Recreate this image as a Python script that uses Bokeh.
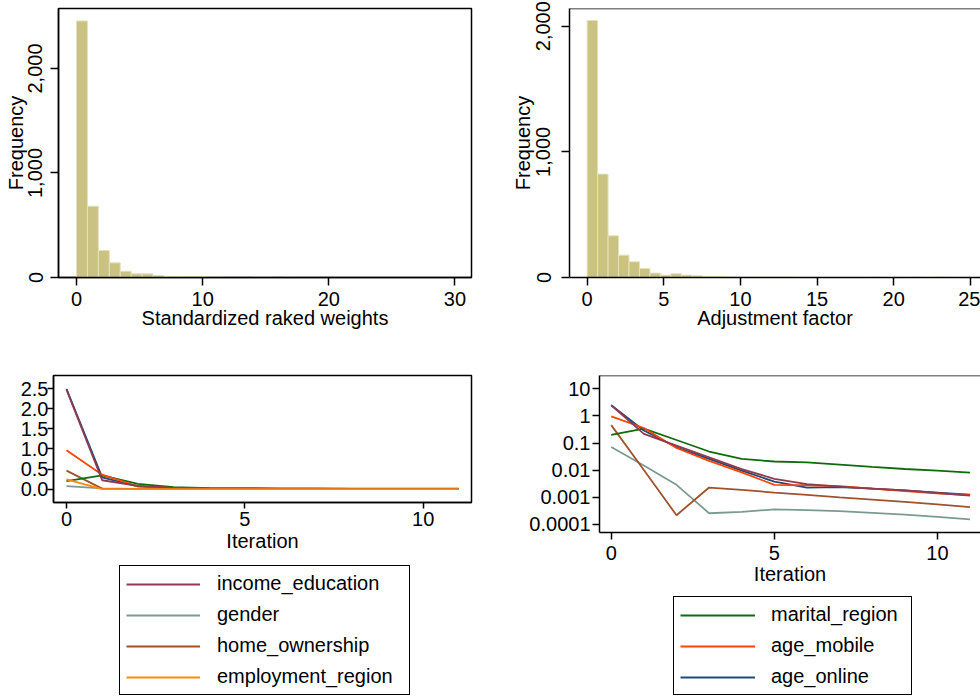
import math
import numpy as np
from bokeh.plotting import figure
from bokeh.layouts import row, column
from bokeh.models import (Range1d, FixedTicker, NumeralTickFormatter, Legend,
                          LegendItem, Span)
from bokeh.embed import file_html
from bokeh.resources import INLINE

FONT = "Liberation Sans"
FS = "20px"

# ---------------- data ----------------
weights_bin_width = 0.866
weights_counts = [2455, 682, 258, 140, 60, 35, 35, 19, 10, 10, 7, 9, 5, 2, 1, 0,
                  3, 3, 0, 3, 0, 0, 0, 0, 0, 0, 0, 0, 0, 0, 0, 0, 0, 2, 2]

adj_bin_width = 0.683
adj_counts = [2045, 823, 332, 178, 125, 72, 35, 19, 30, 19, 13, 8, 5, 4, 3, 3,
              2, 2, 3, 2, 0, 0, 0, 0, 0, 0, 0, 2, 0, 0, 0, 2, 0, 2, 1]

iterations = list(range(12))
income_education = [2.48, 0.22, 0.081, 0.030, 0.011, 0.0048, 0.0031, 0.0025, 0.0021, 0.0018, 0.00145, 0.00115]
gender = [0.072, 0.015, 0.0029, 0.00026, 0.00029, 0.00036, 0.00034, 0.00031, 0.00027, 0.00023, 0.00019, 0.000155]
home_ownership = [0.46, 0.0102, 0.00022, 0.0023, 0.0019, 0.0015, 0.00123, 0.0010, 0.00083, 0.00068, 0.00055, 0.00044]
employment_region = [0.24, 0, 0, 0, 0, 0, 0, 0, 0, 0, 0, 0]
marital_region = [0.20, 0.34, 0.13, 0.049, 0.026, 0.021, 0.0196, 0.0161, 0.0132, 0.0111, 0.0097, 0.0081]
age_mobile = [0.97, 0.36, 0.066, 0.022, 0.0083, 0.0029, 0.0028, 0.0026, 0.0021, 0.0017, 0.0014, 0.0012]
age_online = [2.5, 0.29, 0.070, 0.026, 0.0097, 0.0038, 0.0023, 0.0024, 0.0021, 0.0018, 0.0015, 0.00125]

series = {
    "income_education": income_education,
    "gender": gender,
    "home_ownership": home_ownership,
    "employment_region": employment_region,
    "marital_region": marital_region,
    "age_mobile": age_mobile,
    "age_online": age_online,
}
colors = {
    "income_education": "#8E3A4F",
    "gender": "#7C9A90",
    "home_ownership": "#A0522D",
    "employment_region": "#FF8C00",
    "marital_region": "#0E6B0E",
    "age_mobile": "#FF4500",
    "age_online": "#1F4A7A",
}
draw_order = ["age_online", "gender", "home_ownership", "marital_region",
              "age_mobile", "income_education", "employment_region"]
legend_left = ["income_education", "gender", "home_ownership", "employment_region"]
legend_right = ["marital_region", "age_mobile", "age_online"]

BAR_FILL = "#C9C281"
BAR_LINE = "#E6E2B6"
LW = 1.8
NAN = float("nan")


def style(p, tick_out):
    p.outline_line_color = "black"
    p.outline_line_width = 1.5
    p.grid.visible = False
    p.background_fill_color = "white"
    p.border_fill_color = "white"
    for ax in p.axis:
        ax.axis_line_color = "black"
        ax.axis_line_width = 1.5
        ax.major_tick_line_color = "black"
        ax.major_tick_line_width = 1.5
        ax.major_tick_out = tick_out
        ax.major_tick_in = 0
        ax.minor_tick_line_color = None
        ax.major_label_text_font = FONT
        ax.major_label_text_font_size = FS
        ax.major_label_text_color = "black"
        ax.axis_label_text_font = FONT
        ax.axis_label_text_font_size = FS
        ax.axis_label_text_font_style = "normal"
        ax.axis_label_text_color = "black"


def histogram(counts, width, xr, yr, xticks, yticks, xlabel, mb_left, fw, mb_right,
              y_standoff, y_label_standoff):
    p = figure(frame_width=fw, frame_height=269, min_border_left=mb_left,
               min_border_right=mb_right, min_border_top=8, min_border_bottom=60,
               x_range=Range1d(*xr), y_range=Range1d(*yr),
               output_backend="svg", toolbar_location=None)
    left = np.arange(len(counts)) * width
    p.quad(left=left, right=left + width, bottom=0, top=np.array(counts),
           fill_color=BAR_FILL, line_color=BAR_LINE, line_width=1)
    style(p, 8)
    p.xaxis.ticker = FixedTicker(ticks=xticks)
    p.yaxis.ticker = FixedTicker(ticks=yticks)
    p.yaxis.formatter = NumeralTickFormatter(format="0,0")
    p.yaxis.major_label_orientation = "parallel"
    p.xaxis.axis_label = xlabel
    p.yaxis.axis_label = "Frequency"
    p.xaxis.major_label_standoff = 6
    p.xaxis.axis_label_standoff = -2
    p.yaxis.major_label_standoff = y_standoff
    p.yaxis.axis_label_standoff = y_label_standoff
    return p


p1 = histogram(weights_counts, weights_bin_width, (-1.43, 31.31), (0, 2574),
               [0, 10, 20, 30], [0, 1000, 2000], "Standardized raked weights",
               58, 413, 10, 8, -1)

p2 = histogram(adj_counts, adj_bin_width, (-1.15, 25.66), (0, 2141),
               [0, 5, 10, 15, 20, 25], [0, 1000, 2000], "Adjustment factor",
               88, 411, 0, 11, 0)
p2.outline_line_color = None
p2.add_layout(Span(location=2141, dimension="width", line_color="black", line_width=1.5))


def legend_figure(names, width, height, loc, glyph_w, standoff, label_w):
    p = figure(width=width, height=height, min_border=0,
               x_range=Range1d(0, 1), y_range=Range1d(0, 1),
               x_axis_location=None, y_axis_location=None,
               output_backend="svg", toolbar_location=None)
    p.outline_line_color = None
    p.grid.visible = False
    items = []
    for n in names:
        r = p.line(x=[NAN, NAN], y=[NAN, NAN], line_color=colors[n], line_width=LW)
        items.append(LegendItem(label=n, renderers=[r]))
    leg = Legend(items=items, location=loc, orientation="vertical",
                 label_text_font=FONT, label_text_font_size=FS,
                 label_text_color="black",
                 glyph_width=glyph_w, glyph_height=20, label_height=20,
                 label_standoff=standoff, label_width=label_w, spacing=8,
                 padding=6, margin=0, border_line_color="black",
                 border_line_alpha=1.0, border_line_width=1,
                 background_fill_color="white", background_fill_alpha=1.0)
    p.add_layout(leg, "center")
    return p


# bottom-left: linear
p3 = figure(frame_width=418, frame_height=127, min_border_left=53, min_border_right=10,
            min_border_top=38, min_border_bottom=58,
            x_range=Range1d(-0.364, 11.354), y_range=Range1d(-0.335, 2.833),
            output_backend="svg", toolbar_location=None)
for n in draw_order:
    p3.line(iterations, series[n], line_color=colors[n], line_width=LW)
style(p3, 6)
p3.xaxis.ticker = FixedTicker(ticks=[0, 5, 10])
p3.yaxis.ticker = FixedTicker(ticks=[0, 0.5, 1.0, 1.5, 2.0, 2.5])
p3.yaxis.formatter = NumeralTickFormatter(format="0.0")
p3.xaxis.axis_label = "Iteration"
p3.xaxis.major_label_standoff = 3
p3.xaxis.axis_label_standoff = 1
p3.yaxis.major_label_standoff = -1

leg3 = legend_figure(legend_left, 481, 137, (66, 2), 74, 17, 186)

# bottom-right: log
p4 = figure(frame_width=381, frame_height=157, min_border_left=118, min_border_right=0,
            min_border_top=38, min_border_bottom=58, y_axis_type="log",
            x_range=Range1d(-0.36, 11.32), y_range=Range1d(5.07e-5, 31.0),
            output_backend="svg", toolbar_location=None)
for n in draw_order:
    vals = [v if v > 0 else NAN for v in series[n]]
    p4.line(iterations, vals, line_color=colors[n], line_width=LW)
style(p4, 7)
p4.outline_line_color = None
p4.add_layout(Span(location=31.0, dimension="width", line_color="black", line_width=1.5))
log_ticks = [0.0001, 0.001, 0.01, 0.1, 1, 10]
log_labels = ["0.0001", "0.001", "0.01", "0.1", "1", "10"]
p4.xaxis.ticker = FixedTicker(ticks=[0, 5, 10])
p4.yaxis.ticker = FixedTicker(ticks=log_ticks)
p4.yaxis.major_label_overrides = {t: l for t, l in zip(log_ticks, log_labels)}
p4.xaxis.axis_label = "Iteration"
p4.xaxis.major_label_standoff = 6
p4.xaxis.axis_label_standoff = 0
p4.yaxis.major_label_standoff = 2

leg4 = legend_figure(legend_right, 499, 107, (74, 2), 75, 16, 134)

layout = column(row(p1, p2), row(column(p3, leg3), column(p4, leg4)))
open("out.html", "w").write(file_html(layout, INLINE))
